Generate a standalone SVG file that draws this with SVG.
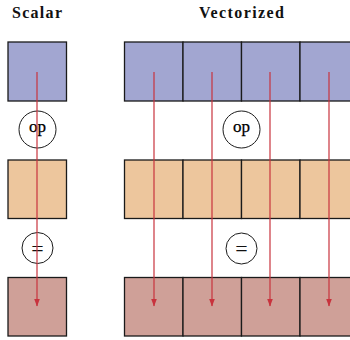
<svg xmlns="http://www.w3.org/2000/svg" width="350" height="340" viewBox="0 0 350 340">
<style>
.t{font-family:"Liberation Serif",serif;font-weight:bold;font-size:16px;text-anchor:middle;fill:#111}
.in{fill:#A2A6D1;stroke:#1a1a1a;stroke-width:1.3}
.mid{fill:#EDC69D;stroke:#1a1a1a;stroke-width:1.3}
.out{fill:#CFA098;stroke:#1a1a1a;stroke-width:1.3}
.c{fill:#fff;stroke:#1a1a1a;stroke-width:1}
.ol{font-family:"Liberation Serif",serif;font-size:17px;text-anchor:middle;fill:#000;stroke:#000;stroke-width:0.25}
.eq{font-family:"Liberation Serif",serif;font-size:22px;text-anchor:middle;fill:#111}
.a{stroke:#C8333D;stroke-width:1.2;fill:none;marker-end:url(#ah)}
</style>
<defs>
<marker id="ah" viewBox="0 0 8 6" refX="7.5" refY="3" markerWidth="8" markerHeight="6" orient="auto" markerUnits="userSpaceOnUse">
<path d="M0,0 L8,3 L0,6 Z" fill="#C8333D"/>
</marker>
</defs>
<rect width="350" height="340" fill="#fff"/>
<text class="t" x="37" y="18" textLength="50" lengthAdjust="spacing">Scalar</text>
<text class="t" x="241.5" y="18" textLength="85" lengthAdjust="spacing">Vectorized</text>
<g id="scalar-in"><rect class="in" x="8" y="42" width="58.5" height="59"/></g>
<g id="scalar-mid"><rect class="mid" x="8" y="160" width="58.5" height="58.5"/></g>
<g id="scalar-out"><rect class="out" x="8" y="277.5" width="58.5" height="58.5"/></g>
<g id="vec-in">
<rect class="in" x="124.5" y="42" width="58.5" height="59"/>
<rect class="in" x="183" y="42" width="58.5" height="59"/>
<rect class="in" x="241.5" y="42" width="58.5" height="59"/>
<rect class="in" x="300" y="42" width="58.5" height="59"/>
</g>
<g id="vec-mid">
<rect class="mid" x="124.5" y="160" width="58.5" height="58.5"/>
<rect class="mid" x="183" y="160" width="58.5" height="58.5"/>
<rect class="mid" x="241.5" y="160" width="58.5" height="58.5"/>
<rect class="mid" x="300" y="160" width="58.5" height="58.5"/>
</g>
<g id="vec-out">
<rect class="out" x="124.5" y="277.5" width="58.5" height="58.5"/>
<rect class="out" x="183" y="277.5" width="58.5" height="58.5"/>
<rect class="out" x="241.5" y="277.5" width="58.5" height="58.5"/>
<rect class="out" x="300" y="277.5" width="58.5" height="58.5"/>
</g>
<g id="op-scalar"><circle class="c" cx="37.5" cy="129.5" r="18.5"/><text class="ol" x="37.5" y="132">op</text></g>
<g id="op-vec"><circle class="c" cx="241.5" cy="129.5" r="18.5"/><text class="ol" x="241.5" y="132">op</text></g>
<g id="eq-scalar"><circle class="c" cx="37.5" cy="248" r="15.5"/><text class="eq" x="37.5" y="255.5">=</text></g>
<g id="eq-vec"><circle class="c" cx="241.5" cy="248.5" r="15.5"/><text class="eq" x="241.5" y="256">=</text></g>
<g id="connectors">
<path class="a" d="M37,72 V306"/>
<path class="a" d="M154,72 V306"/>
<path class="a" d="M212,72 V306"/>
<path class="a" d="M270,72 V306"/>
<path class="a" d="M329,72 V306"/>
</g>
</svg>
